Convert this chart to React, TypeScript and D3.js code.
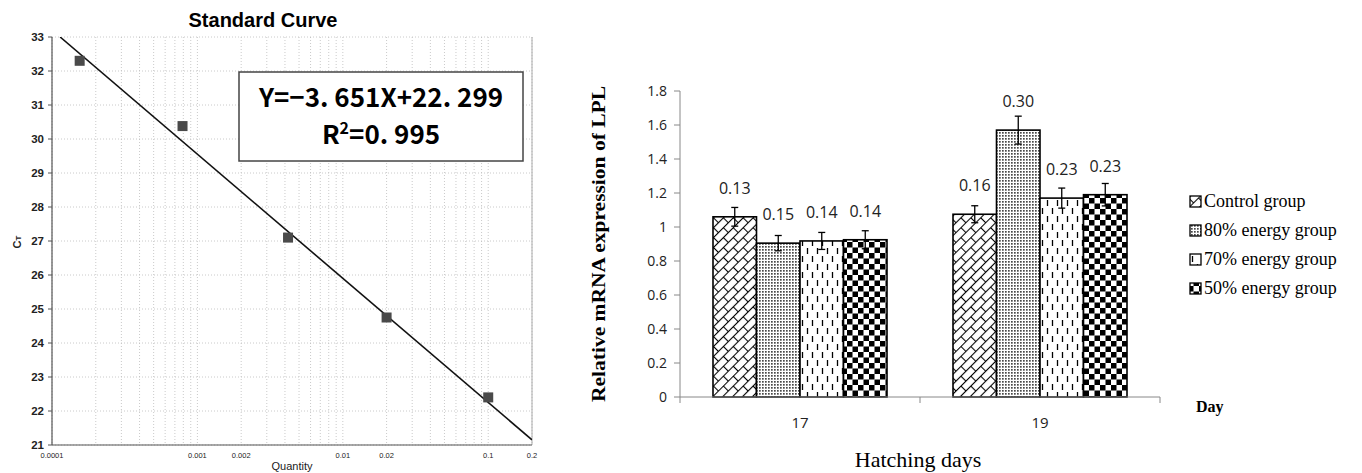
import React from "react";
import * as d3 from "d3";

// ---------- Left chart: standard curve ----------
const curveQuantity = [0.000155, 0.00079, 0.0042, 0.02, 0.1];
const curveCt = [32.3, 30.38, 27.1, 24.75, 22.4];
const fitSlope = -3.651;
const fitIntercept = 18.6;
const curveYTicks = [21, 22, 23, 24, 25, 26, 27, 28, 29, 30, 31, 32, 33];
const curveXTicks = [0.0001, 0.001, 0.002, 0.01, 0.02, 0.1, 0.2];
const curveXTickLabels = ["0.0001", "0.001", "0.002", "0.01", "0.02", "0.1", "0.2"];

// ---------- Right chart: LPL expression ----------
const days = ["17", "19"];
const groups = ["Control group", "80% energy group", "70% energy group", "50% energy group"];
const controlValues = [1.06, 1.075];
const energy80Values = [0.905, 1.57];
const energy70Values = [0.918, 1.17];
const energy50Values = [0.925, 1.19];
const controlErr = [0.055, 0.05];
const energy80Err = [0.045, 0.082];
const energy70Err = [0.05, 0.059];
const energy50Err = [0.053, 0.066];
const controlLabels = ["0.13", "0.16"];
const energy80Labels = ["0.15", "0.30"];
const energy70Labels = ["0.14", "0.23"];
const energy50Labels = ["0.14", "0.23"];
const barYTicks = [0, 0.2, 0.4, 0.6, 0.8, 1, 1.2, 1.4, 1.6, 1.8];

const seriesValues = [controlValues, energy80Values, energy70Values, energy50Values];
const seriesErr = [controlErr, energy80Err, energy70Err, energy50Err];
const seriesLabels = [controlLabels, energy80Labels, energy70Labels, energy50Labels];
const patternIds = ["pBrick", "pDots", "pDash", "pCheck"];

export default function App() {
  // Left scales
  const xL = d3.scaleLog().domain([0.0001, 0.2]).range([52, 532]);
  const yL = d3.scaleLinear().domain([21, 33]).range([445, 37]);
  const minorX: number[] = [];
  for (let e = -4; e <= -1; e++) {
    for (let k = 1; k <= 9; k++) {
      const v = k * Math.pow(10, e);
      if (v <= 0.2 + 1e-12) minorX.push(v);
    }
  }
  const qStart = Math.pow(10, (33 - fitIntercept) / fitSlope);
  const fitLine = d3
    .line<number>()
    .x((q) => xL(q))
    .y((q) => yL(fitIntercept + fitSlope * Math.log10(q)));

  // Right scales
  const x0 = d3.scaleBand().domain(days).range([680, 1160]).paddingInner(0.275).paddingOuter(0.1375);
  const x1 = d3.scaleBand().domain(groups).range([0, x0.bandwidth()]);
  const yR = d3.scaleLinear().domain([0, 1.8]).range([397, 91]);
  const catEdges = [680, 920, 1160];

  const sans = "Open Sans, sans-serif";
  const serif = "Liberation Serif, Times New Roman, serif";
  const arial = "Liberation Sans, Arial, sans-serif";
  const cjk = "Noto Sans CJK SC, Noto Sans, sans-serif";

  return (
    <svg width={1362} height={473} style={{ position: "absolute", left: 0, top: 0, background: "#fff" }}>
      <defs>
        <pattern id="pBrick" width={14} height={14} patternUnits="userSpaceOnUse" patternTransform="rotate(-45)">
          <rect width={14} height={14} fill="#fff" />
          <line x1={0} y1={0.5} x2={14} y2={0.5} stroke="#000" strokeWidth={1.1} />
          <line x1={0} y1={7.5} x2={14} y2={7.5} stroke="#000" strokeWidth={1.1} />
          <line x1={0.5} y1={0} x2={0.5} y2={7.5} stroke="#000" strokeWidth={1.1} />
          <line x1={7.5} y1={7.5} x2={7.5} y2={14} stroke="#000" strokeWidth={1.1} />
        </pattern>
        <pattern id="pDots" width={3} height={3} patternUnits="userSpaceOnUse">
          <rect width={3} height={3} fill="#fff" />
          <rect width={1.7} height={1.7} fill="#4a4a4a" />
        </pattern>
        <pattern id="pDash" width={10} height={16} patternUnits="userSpaceOnUse">
          <rect width={10} height={16} fill="#fff" />
          <line x1={2.5} y1={0} x2={2.5} y2={6} stroke="#000" strokeWidth={1.3} />
          <line x1={7.5} y1={8} x2={7.5} y2={14} stroke="#000" strokeWidth={1.3} />
        </pattern>
        <pattern id="pCheck" width={11} height={11} patternUnits="userSpaceOnUse">
          <rect width={11} height={11} fill="#fff" />
          <rect width={5.5} height={5.5} fill="#000" />
          <rect x={5.5} y={5.5} width={5.5} height={5.5} fill="#000" />
        </pattern>
        <clipPath id="plotL">
          <rect x={52} y={37} width={480} height={408} />
        </clipPath>
      </defs>

      {/* ================= LEFT CHART ================= */}
      <text x={263} y={27} textAnchor="middle" fontFamily={arial} fontWeight="bold" fontSize={20} fill="#000">
        Standard Curve
      </text>
      {/* grid */}
      {minorX.map((v, i) => (
        <line key={"gx" + i} x1={xL(v)} x2={xL(v)} y1={37} y2={445} stroke="#bdbdbd" strokeWidth={0.8} strokeDasharray="1,2" />
      ))}
      {curveYTicks.map((t) => (
        <line key={"gy" + t} x1={52} x2={532} y1={yL(t)} y2={yL(t)} stroke="#bdbdbd" strokeWidth={0.8} strokeDasharray="1,2" />
      ))}
      <line x1={532} x2={532} y1={37} y2={445} stroke="#aaa" strokeWidth={1} />
      {/* axes */}
      <line x1={52} x2={52} y1={37} y2={445} stroke="#555" strokeWidth={1.2} />
      <line x1={52} x2={532} y1={445} y2={445} stroke="#555" strokeWidth={1.2} />
      {curveYTicks.map((t) => (
        <g key={"yt" + t}>
          <line x1={48} x2={52} y1={yL(t)} y2={yL(t)} stroke="#555" strokeWidth={1} />
          <text x={44} y={yL(t) + 4} textAnchor="end" fontFamily={arial} fontWeight="bold" fontSize={11.5} fill="#222">
            {t}
          </text>
        </g>
      ))}
      {curveXTicks.map((t, i) => (
        <text key={"xt" + i} x={xL(t)} y={458} textAnchor="middle" fontFamily={arial} fontSize={7.5} fill="#222">
          {curveXTickLabels[i]}
        </text>
      ))}
      <text x={292} y={470} textAnchor="middle" fontFamily={arial} fontSize={11} fill="#222">
        Quantity
      </text>
      <text transform={`translate(21,242) rotate(-90)`} textAnchor="middle" fontFamily={arial} fontWeight="bold" fontSize={11} fill="#222">
        C<tspan fontSize={8}>T</tspan>
      </text>
      {/* fit line */}
      <path d={fitLine([qStart, 0.2]) || ""} fill="none" stroke="#111" strokeWidth={1.6} clipPath="url(#plotL)" />
      {/* points */}
      {curveQuantity.map((q, i) => (
        <rect key={"pt" + i} x={xL(q) - 5} y={yL(curveCt[i]) - 5} width={10} height={10} fill="#4a4a4a" />
      ))}
      {/* equation box */}
      <rect x={239} y={72} width={284} height={89} fill="#fff" stroke="#444" strokeWidth={1.5} />
      <text x={381} y={107} textAnchor="middle" fontFamily={cjk} fontWeight={700} fontSize={26} fill="#000">
        Y=−3. 651X+22. 299
      </text>
      <text x={381} y={144} textAnchor="middle" fontFamily={cjk} fontWeight={700} fontSize={26} fill="#000">
        R<tspan fontSize={16} dy={-10}>2</tspan>
        <tspan dy={10}>=0. 995</tspan>
      </text>

      {/* ================= RIGHT CHART ================= */}
      <text
        transform={`translate(605,244) rotate(-90)`}
        textAnchor="middle"
        fontFamily={serif}
        fontWeight="bold"
        fontSize={19}
        textLength={316}
        lengthAdjust="spacingAndGlyphs"
        fill="#000"
      >
        Relative mRNA expression of LPL
      </text>
      {/* y axis */}
      <line x1={680} x2={680} y1={yR(1.8)} y2={yR(0)} stroke="#888" strokeWidth={1} />
      {barYTicks.map((t) => (
        <g key={"byt" + t}>
          <line x1={674} x2={680} y1={yR(t)} y2={yR(t)} stroke="#888" strokeWidth={1} />
          <text x={667} y={yR(t) + 5} textAnchor="end" fontFamily={sans} fontSize={14} fill="#222">
            {String(t)}
          </text>
        </g>
      ))}
      {/* bars */}
      {days.map((d, di) => (
        <g key={"day" + d}>
          {groups.map((g, gi) => {
            const v = seriesValues[gi][di];
            const e = seriesErr[gi][di];
            const bx = (x0(d) || 0) + (x1(g) || 0);
            const bw = x1.bandwidth();
            const cx = bx + bw / 2;
            return (
              <g key={"bar" + gi}>
                <rect x={bx} y={yR(v)} width={bw} height={yR(0) - yR(v)} fill={`url(#${patternIds[gi]})`} stroke="#000" strokeWidth={1.6} />
                <line x1={cx} x2={cx} y1={yR(v + e)} y2={yR(v - e)} stroke="#000" strokeWidth={1.3} />
                <line x1={cx - 3.5} x2={cx + 3.5} y1={yR(v + e)} y2={yR(v + e)} stroke="#000" strokeWidth={1.3} />
                <line x1={cx - 3.5} x2={cx + 3.5} y1={yR(v - e)} y2={yR(v - e)} stroke="#000" strokeWidth={1.3} />
                <text x={cx} y={yR(v) - 23} textAnchor="middle" fontFamily={sans} fontSize={16} fill="#222">
                  {seriesLabels[gi][di]}
                </text>
              </g>
            );
          })}
        </g>
      ))}
      {/* x axis */}
      <line x1={680} x2={1160} y1={yR(0)} y2={yR(0)} stroke="#888" strokeWidth={1} />
      {catEdges.map((cx, i) => (
        <line key={"ce" + i} x1={cx} x2={cx} y1={yR(0)} y2={yR(0) + 6} stroke="#888" strokeWidth={1} />
      ))}
      {days.map((d) => (
        <text key={"dl" + d} x={(x0(d) || 0) + x0.bandwidth() / 2} y={428} textAnchor="middle" fontFamily={sans} fontSize={15} fill="#222">
          {d}
        </text>
      ))}
      <text x={1196} y={412} fontFamily={serif} fontWeight="bold" fontSize={16} fill="#000">
        Day
      </text>
      <text x={918} y={467} textAnchor="middle" fontFamily={serif} fontSize={22} fill="#000">
        Hatching days
      </text>
      {/* legend */}
      {groups.map((g, i) => (
        <g key={"lg" + i}>
          <rect x={1190} y={196 + i * 29} width={11} height={11} fill={`url(#${patternIds[i]})`} stroke="#000" strokeWidth={1.3} />
          <text x={1204} y={207 + i * 29} fontFamily={serif} fontSize={18} fill="#000">
            {g}
          </text>
        </g>
      ))}
    </svg>
  );
}
